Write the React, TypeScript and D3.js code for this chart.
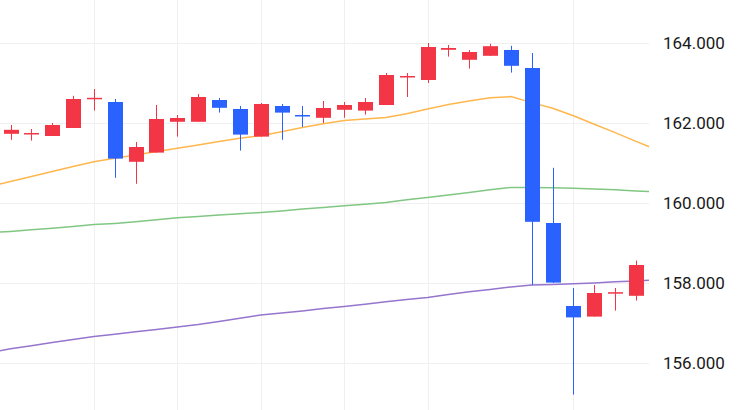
import React, { useEffect, useRef } from 'react';
import * as d3 from 'd3';

// OHLC per bar
const opens = [161.73, 161.74, 161.675, 161.875, 162.62, 162.525, 161.03, 161.26, 162.03, 162.03, 162.575, 162.35,
  161.66, 162.425, 162.2, 162.13, 162.33, 162.31, 162.45, 163.15, 163.075, 163.83, 163.58, 163.68, 163.825, 163.375,
  159.5, 157.425, 157.16, 157.75, 157.68];
const highs = [161.95, 161.85, 162.0, 162.68, 162.85, 162.6, 161.525, 162.45, 162.2, 162.725, 162.625, 162.425,
  162.5, 162.475, 162.425, 162.55, 162.525, 162.625, 163.25, 163.25, 164.0, 163.95, 163.825, 163.98, 163.93, 163.75,
  160.88, 157.875, 157.95, 157.875, 158.56];
const lows = [161.58, 161.56, 161.675, 161.875, 162.31, 160.63, 160.48, 161.26, 161.66, 162.03, 162.26, 161.31,
  161.66, 161.58, 161.9, 162.0, 162.13, 162.21, 162.45, 162.65, 163.0, 163.66, 163.36, 163.68, 163.26, 157.95,
  158.0, 155.21, 157.16, 157.31, 157.56];
const closes = [161.83, 161.75, 161.95, 162.6, 162.63, 161.11, 161.4, 162.1, 162.125, 162.65, 162.38, 161.71,
  162.475, 162.26, 162.18, 162.375, 162.45, 162.525, 163.2, 163.175, 163.9, 163.875, 163.775, 163.92, 163.43, 159.53,
  158.01, 157.14, 157.75, 157.77, 158.45];

// moving averages, indices -1 .. 31 (one bar past each edge)
const maFast = [160.41, 160.54, 160.66, 160.79, 160.91, 161.03, 161.12, 161.2, 161.29, 161.37, 161.45, 161.54, 161.62,
  161.68, 161.78, 161.89, 161.98, 162.06, 162.1, 162.14, 162.23, 162.35, 162.46, 162.55, 162.63, 162.66, 162.51,
  162.37, 162.18, 161.97, 161.76, 161.54, 161.33];
const maMid = [159.26, 159.29, 159.33, 159.37, 159.41, 159.46, 159.49, 159.53, 159.58, 159.63, 159.66, 159.7, 159.73,
  159.76, 159.8, 159.85, 159.89, 159.93, 159.97, 160.01, 160.08, 160.14, 160.2, 160.26, 160.33, 160.39, 160.39,
  160.38, 160.37, 160.35, 160.33, 160.3, 160.28];
const maSlow = [156.26, 156.355, 156.43, 156.51, 156.59, 156.66, 156.72, 156.78, 156.84, 156.9, 156.96, 157.04, 157.12,
  157.2, 157.25, 157.3, 157.36, 157.41, 157.47, 157.53, 157.59, 157.64, 157.71, 157.78, 157.84, 157.9, 157.95,
  157.96, 157.98, 158.0, 158.03, 158.05, 158.08];

const priceTicks = [164, 162, 160, 158, 156];
const timeGridBars = [4, 8, 12, 16, 20, 27];

const App: React.FC = () => {
  const ref = useRef<SVGSVGElement>(null);

  useEffect(() => {
    const svg = d3.select(ref.current);
    svg.selectAll('*').remove();

    const W = 742;
    const H = 410;
    const plotRight = 649;

    const x = d3.scaleLinear().domain([0, 30]).range([10.5, 636]);
    const y = d3.scaleLinear().domain([156, 164]).range([363, 43]);

    svg.append('rect').attr('width', W).attr('height', H).attr('fill', '#ffffff');

    svg.append('defs').append('clipPath').attr('id', 'plot')
      .append('rect').attr('x', 0).attr('y', 0).attr('width', plotRight).attr('height', H);

    const grid = svg.append('g').attr('stroke', '#f0f0f0').attr('stroke-width', 1);
    grid.selectAll('line.h').data(priceTicks).enter().append('line')
      .attr('x1', 0).attr('x2', plotRight)
      .attr('y1', (d) => Math.round(y(d)) + 0.5).attr('y2', (d) => Math.round(y(d)) + 0.5);
    grid.selectAll('line.v').data(timeGridBars).enter().append('line')
      .attr('y1', 0).attr('y2', H)
      .attr('x1', (d) => Math.round(x(d)) + 0.5).attr('x2', (d) => Math.round(x(d)) + 0.5);

    const plot = svg.append('g').attr('clip-path', 'url(#plot)');

    // moving average lines
    const line = d3.line<number>().x((_, i) => x(i - 1)).y((d) => y(d));
    [
      { data: maSlow, color: '#9575cd' },
      { data: maMid, color: '#81c784' },
      { data: maFast, color: '#ffb74d' },
    ].forEach((s) => {
      plot.append('path').datum(s.data)
        .attr('fill', 'none').attr('stroke', s.color).attr('stroke-width', 1.5)
        .attr('d', line);
    });

    // candles
    const up = '#f23645';
    const down = '#2962ff';
    const bodyW = 15;
    const bars = opens.map((o, i) => ({ i, o, h: highs[i], l: lows[i], c: closes[i] }));
    const g = plot.selectAll('g.c').data(bars).enter().append('g')
      .attr('fill', (d) => (d.c >= d.o ? up : down))
      .attr('stroke', (d) => (d.c >= d.o ? up : down));
    g.append('line')
      .attr('x1', (d) => Math.round(x(d.i)) + 0.5).attr('x2', (d) => Math.round(x(d.i)) + 0.5)
      .attr('y1', (d) => y(d.h)).attr('y2', (d) => y(d.l))
      .attr('stroke-width', 1);
    g.append('rect')
      .attr('stroke', 'none')
      .attr('x', (d) => Math.round(x(d.i)) - 7)
      .attr('width', bodyW)
      .attr('y', (d) => y(Math.max(d.o, d.c)))
      .attr('height', (d) => Math.max(1.5, Math.abs(y(d.o) - y(d.c))));

    // price scale
    svg.append('g').selectAll('text').data(priceTicks).enter().append('text')
      .attr('x', 663).attr('y', (d) => y(d))
      .attr('dominant-baseline', 'central')
      .attr('font-family', 'Roboto, sans-serif')
      .attr('font-size', 17)
      .attr('fill', '#191919')
      .text((d) => d3.format('.3f')(d));
  }, []);

  return (
    <svg ref={ref} width={742} height={410} style={{ position: 'absolute', left: 0, top: 0 }} />
  );
};

export default App;
